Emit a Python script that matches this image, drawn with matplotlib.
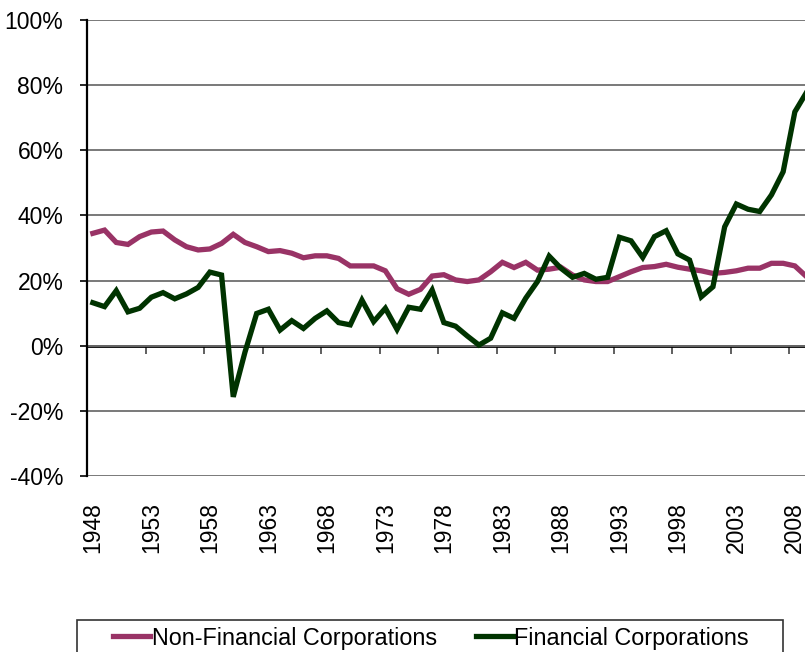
import matplotlib
matplotlib.use('Agg')
import matplotlib.pyplot as plt
import numpy as np
from matplotlib.patches import Rectangle
from matplotlib.ticker import FixedLocator, FuncFormatter

plt.rcParams['font.family'] = ['Liberation Sans', 'DejaVu Sans']

years = list(range(1948, 2010))
non_financial = [34.5, 35.5, 31.7, 31.1, 33.5, 34.9, 35.2, 32.5, 30.4, 29.4,
                 29.7, 31.4, 34.2, 31.7, 30.4, 28.9, 29.2, 28.4, 27.0, 27.6,
                 27.6, 26.8, 24.5, 24.5, 24.5, 23.0, 17.5, 15.8, 17.3, 21.4,
                 21.8, 20.2, 19.7, 20.2, 22.7, 25.6, 24.0, 25.6, 23.2, 23.5,
                 24.1, 21.7, 20.2, 19.7, 19.7, 21.2, 22.7, 24.0, 24.3, 25.0,
                 24.1, 23.5, 23.0, 22.2, 22.5, 23.0, 23.8, 23.8, 25.3, 25.3,
                 24.5, 21.2]
financial = [13.2, 12.0, 16.9, 10.4, 11.5, 14.9, 16.3, 14.4, 15.9, 17.9,
             22.6, 21.7, -15.7, -2.0, 9.9, 11.2, 4.8, 7.7, 5.3, 8.4,
             10.7, 7.1, 6.4, 14.0, 7.4, 11.5, 5.0, 11.8, 11.2, 17.1,
             7.1, 6.0, 3.0, 0.2, 2.3, 10.1, 8.4, 14.6, 19.7, 27.5,
             23.8, 21.0, 22.2, 20.4, 21.0, 33.3, 32.2, 27.1, 33.5, 35.3,
             28.2, 26.3, 15.0, 18.1, 36.5, 43.5, 41.9, 41.2, 46.3, 53.4,
             71.8, 77.8]
y_ticks = [-40, -20, 0, 20, 40, 60, 80, 100]

W, H = 805, 652
fs = 16.5
fig = plt.figure(figsize=(W / 100, H / 100), dpi=100)
n = len(years)
cat_w = 11.7
ax = fig.add_axes([87 / W, (H - 476) / H, n * cat_w / W, 456 / H])

x = np.arange(n)
ax.plot(x, non_financial, color='#993366', lw=3.8, solid_joinstyle='miter',
        label='Non-Financial Corporations', zorder=3)
ax.plot(x, financial, color='#003300', lw=3.8, solid_joinstyle='miter',
        label='Financial Corporations', zorder=4)

ax.set_xlim(-0.5, n - 0.5)
ax.set_ylim(-40, 100)

ax.set_yticks(y_ticks)
ax.yaxis.set_major_formatter(FuncFormatter(lambda v, p: '%d%%' % v))
ax.tick_params(axis='y', direction='out', length=5, width=1.2, pad=12,
               labelsize=fs, color='black')
ax.yaxis.grid(True, color='#6e6e6e', lw=1.3)
ax.set_axisbelow(True)

ax.set_xticks(x[::5])
ax.set_xticklabels([str(y) for y in years[::5]], rotation=90, va='top')
ax.tick_params(axis='x', length=0, pad=19, labelsize=fs)

for s in ['top', 'right', 'bottom']:
    ax.spines[s].set_visible(False)
ax.spines['left'].set_linewidth(1.6)
ax.spines['left'].set_color('black')

# category axis crossing at 0%
zero_axis = ax.secondary_xaxis(2 / 7)
zero_axis.xaxis.set_major_locator(FixedLocator(np.arange(4.5, n, 5)))
zero_axis.tick_params(direction='out', length=6, width=1.2, color='#444444',
                      labelbottom=False, labeltop=False, top=False, bottom=True)
zero_axis.spines['bottom'].set_linewidth(2)
zero_axis.spines['bottom'].set_color('black')

# legend box
fig.patches.append(Rectangle((77 / W, -0.05), 706 / W, (H - 620) / H + 0.05,
                             transform=fig.transFigure, fill=False,
                             edgecolor='#333333', lw=1.2))
fig.legend(loc='center', bbox_to_anchor=(431 / W, 1 - 638 / H), ncol=2,
           frameon=False, fontsize=16.8, handlelength=1.59, handletextpad=0.06,
           columnspacing=1.67)

fig.savefig('out.png', dpi=100)
